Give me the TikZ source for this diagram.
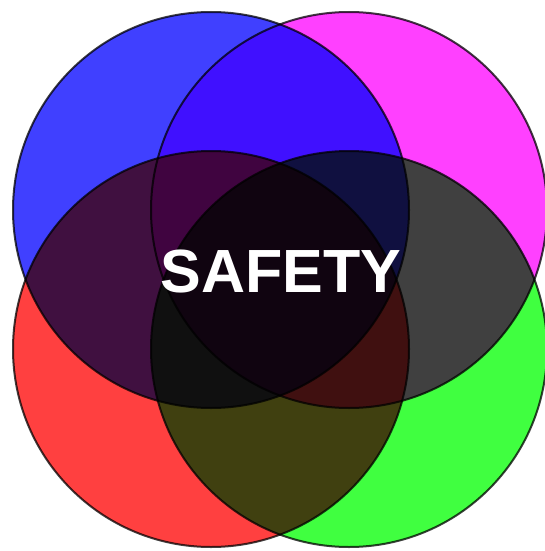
\documentclass[tikz,border=0pt]{standalone}
\usepackage{fontspec}
\setmainfont{Liberation Sans}
\usepackage{xcolor}
\usetikzlibrary{positioning}
\definecolor{PetalBlue}{HTML}{4040FF}
\definecolor{PetalMagenta}{HTML}{FF40FF}
\definecolor{PetalRed}{HTML}{FF4040}
\definecolor{PetalGreen}{HTML}{40FF40}
\definecolor{Rim}{HTML}{404040}
\tikzset{petal/.style={circle, draw=Rim, line width=2pt, minimum size=396pt, inner sep=0pt}}

\begin{document}
\begin{tikzpicture}[x=1pt, y=-1pt]
  \useasboundingbox (0,0) rectangle (545,551);
  % the four overlapping circles, mixed by multiplying
  \begin{scope}[blend group=multiply]
    \node[petal, fill=PetalBlue]    (blue)    at (211,210) {};
    \node[petal, fill=PetalMagenta] (magenta) at (349,210) {};
    \node[petal, fill=PetalRed]     (red)     at (211,349) {};
    \node[petal, fill=PetalGreen]   (green)   at (349,349) {};
  \end{scope}
  \node[text=white, font=\fontsize{61}{61}\selectfont\bfseries, inner sep=0pt] (safety) at (281,271.5) {SAFETY};
\end{tikzpicture}
\end{document}
